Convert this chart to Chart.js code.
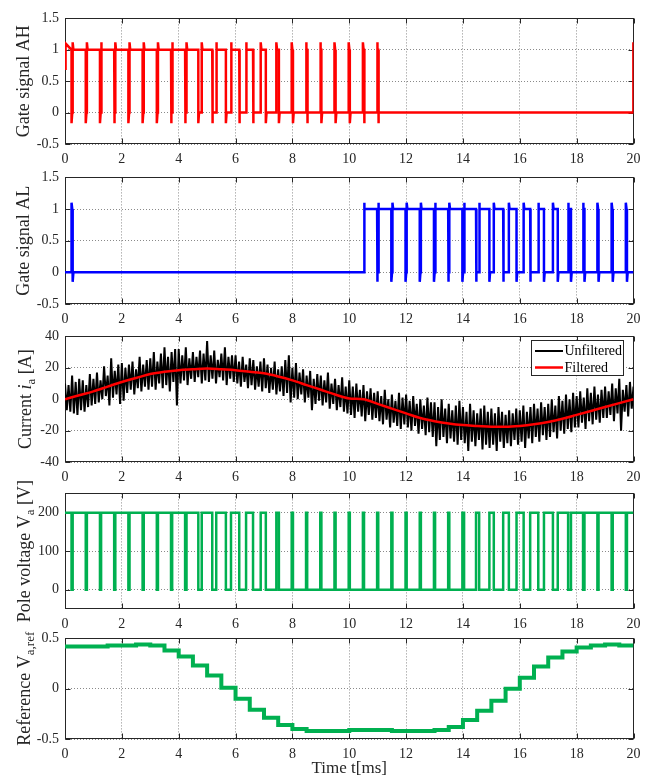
<!DOCTYPE html>
<html>
<head>
<meta charset="utf-8">
<script src="https://cdn.jsdelivr.net/npm/chart.js@4.4.1/dist/chart.umd.min.js"></script>
<style>
  html, body { margin:0; padding:0; background:#ffffff; }
  body { position:relative; width:650px; height:779px; overflow:hidden; }
  canvas { position:absolute; left:0; }
</style>
</head>
<body>
<canvas id="cAH" width="650" height="164" style="top:4px"></canvas>
<canvas id="cAL" width="650" height="165" style="top:163px"></canvas>
<canvas id="cIa" width="650" height="164" style="top:322px"></canvas>
<canvas id="cVa" width="650" height="154" style="top:479px"></canvas>
<canvas id="cRef" width="650" height="155" style="top:624px"></canvas>
<script>
// ---------------- data ----------------
const timeTicks = [0, 2, 4, 6, 8, 10, 12, 14, 16, 18, 20];
const gateTicks = [-0.5, 0, 0.5, 1, 1.5];
const currentTicks = [-40, -20, 0, 20, 40];
const voltageTicks = [0, 100, 200];
const refTicks = [-0.5, 0, 0.5];

// width (ms) of each "low" interval of the pole voltage, centred at 0.25 + 0.5k ms
const pwmLowWidth = [
  0.04, 0.04, 0.04, 0.04, 0.04, 0.04, 0.04, 0.04,
  0.05, 0.12, 0.14, 0.18, 0.24, 0.27, 0.37, 0.45,
  0.46, 0.46, 0.46, 0.46, 0.46, 0.46, 0.46, 0.46, 0.46, 0.46, 0.46, 0.46,
  0.42, 0.36, 0.33, 0.27, 0.23, 0.20, 0.17, 0.10,
  0.05, 0.04, 0.04, 0.04
];
const poleVoltageLevels = [0, 200];
const ahLastPulseEnd = 11.1;      // AH stops switching after this time
const ahFinalRise = 19.985;       // AH rises again at the very end
const ahStartPts = [[0, 0.7], [0.02, 1.1]];
const ahOvershoot = [1.12, -0.17];
const alOvershoot = [1.1, -0.15];
const alFirstLowIndex = 0;        // AL pulse at first low interval
const alSwitchFromIndex = 21;     // AL follows the low intervals from here on

// current: filtered curve (every 0.5 ms)
const iaFiltTime = [0,0.5,1,1.5,2,2.5,3,3.5,4,4.5,5,5.5,6,6.5,7,7.5,8,8.5,9,9.5,10,10.5,11,11.5,12,12.5,13,13.5,14,14.5,15,15.5,16,16.5,17,17.5,18,18.5,19,19.5,20];
const iaFilt = [0,2.5,5,8,11,13.5,16,17.5,18.5,19,19.5,19,18.5,17.5,16.5,14.5,12,9,6,3,0.5,0,-3,-6,-9,-12,-14,-15.5,-16.5,-17,-17.5,-17.5,-17,-16,-14.5,-12.5,-10,-7.5,-5,-2.5,0];

// current: unfiltered ripple, peaks every 0.125 ms and troughs in between
const iaPeak = [
  10, 9, 15, 11, 13, 12, 9, 16,
  13, 17, 12, 21, 15, 26, 18, 22,
  23, 20, 22, 24, 19, 27, 22, 25,
  26, 30, 24, 29, 33, 27, 30, 32,
  32, 28, 33, 26, 30, 27, 31, 29,
  37, 28, 31, 25, 29, 33, 27, 28,
  28, 24, 27, 22, 26, 25, 21, 24,
  26, 22, 20, 24, 19, 21, 25, 28,
  20, 23, 17, 19, 15, 18, 13, 16,
  15, 12, 17, 10, 13, 9, 14, 8,
  12, 8, 10, 6, 9, 5, 7, 4,
  5, 2, 6, 0, 3, -1, 4, 1,
  3, -1, 2, -3, 0, -4, 1, -2,
  -2, -5, 0, -6, -3, -7, -4, -1,
  -5, -8, -3, -7, -9, -6, -4, -8,
  -6, -9, -5, -8, -10, -7, -9, -6,
  -7, -4, -8, -5, -3, -6, -2, -5,
  -3, 0, -4, 2, -1, 3, 0, 4,
  2, 5, 1, 7, 4, 8, 3, 6,
  8, 5, 10, 7, 13, 6, 9, 11
];
const iaTrough = [
  -7, -8, -9, -10, -7, -8, -5, -4,
  -3, -2, 0, 2, -4, 1, 3, -3,
  -1, 4, 6, 3, 7, 5, 8, 6,
  8, 6, 10, 7, 9, 5, 11, -4,
  10, 12, 9, 13, 11, 14, 10, 12,
  11, 13, 10, 14, 12, 9, 13, 11,
  10, 8, 11, 7, 9, 6, 8, 5,
  7, 4, 6, 3, 5, 2, 4, -2,
  1, 0, 3, -2, 1, -7, -3, -1,
  -4, -2, -6, -3, -7, -5, -8, -9,
  -10, -12, -8, -11, -14, -10, -13, -12,
  -14, -16, -13, -18, -15, -17, -19, -16,
  -18, -20, -17, -22, -19, -23, -21, -24,
  -30, -26, -24, -28, -25, -27, -29, -26,
  -28, -33, -27, -30, -26, -32, -29, -31,
  -29, -33, -27, -31, -28, -30, -26, -29,
  -27, -31, -25, -28, -24, -27, -23, -26,
  -24, -21, -25, -20, -22, -19, -21, -18,
  -18, -15, -19, -14, -16, -13, -15, -12,
  -12, -10, -14, -9, -20, -8, -11, -6
];
const iaEndValue = 8;

// reference voltage: one level per 0.5 ms step
const refLevels = [
  0.42, 0.42, 0.42, 0.43, 0.43, 0.44, 0.43, 0.38,
  0.32, 0.23, 0.13, 0.01, -0.10, -0.21, -0.29, -0.36,
  -0.40, -0.42, -0.42, -0.42, -0.41, -0.41, -0.41, -0.42,
  -0.42, -0.42, -0.41, -0.38, -0.31, -0.22, -0.12, 0.00,
  0.11, 0.22, 0.31, 0.37, 0.41, 0.43, 0.44, 0.43
];

// ---------------- building series ----------------
const T_END = 20;
const lows = pwmLowWidth.map((w, k) => [0.25 + 0.5 * k - w / 2, 0.25 + 0.5 * k + w / 2]);
const vaHighs = [];
vaHighs.push([0, lows[0][0]]);
for (let k = 0; k < lows.length - 1; k++) vaHighs.push([lows[k][1], lows[k + 1][0]]);
vaHighs.push([lows[lows.length - 1][1], T_END]);

function gatePoints(highs, hiVal, loVal, os, startPts) {
  const pts = [];
  let level;
  if (startPts) { startPts.forEach(p => pts.push({x: p[0], y: p[1]})); level = 1; }
  else { level = (highs.length && highs[0][0] <= 0) ? 1 : 0; pts.push({x: 0, y: level ? hiVal : loVal}); }
  const settle = 0.025;
  function edge(t, to) {
    const from = level;
    pts.push({x: t, y: from ? hiVal : loVal});
    if (os) {
      pts.push({x: t, y: to ? os[0] : os[1]});
      pts.push({x: Math.min(t + settle, T_END), y: to ? hiVal : loVal});
    } else {
      pts.push({x: t, y: to ? hiVal : loVal});
    }
    level = to;
  }
  highs.forEach(([s, e]) => {
    if (s > 0 && level === 0) edge(s, 1);
    if (e < T_END) edge(e, 0);
  });
  pts.push({x: T_END, y: level ? hiVal : loVal});
  return pts;
}

const ahHighs = vaHighs.filter(h => h[0] < ahLastPulseEnd);
ahHighs.push([ahFinalRise, T_END]);
const ahPts = gatePoints(ahHighs, 1, 0, ahOvershoot, ahStartPts);

const alHighs = [lows[alFirstLowIndex]].concat(lows.slice(alSwitchFromIndex));
const alPts = gatePoints(alHighs, 1, 0, alOvershoot, null);

const vaPts = gatePoints(vaHighs, poleVoltageLevels[1], poleVoltageLevels[0], null, null);

const iaRawPts = [];
iaPeak.forEach((v, k) => {
  iaRawPts.push({x: k * 0.125, y: v});
  iaRawPts.push({x: k * 0.125 + 0.0625, y: iaTrough[k]});
});
iaRawPts.push({x: T_END, y: iaEndValue});
const iaFiltPts = iaFiltTime.map((t, i) => ({x: t, y: iaFilt[i]}));

const refPts = [];
refLevels.forEach((v, k) => { refPts.push({x: 0.5 * k, y: v}); refPts.push({x: 0.5 * k + 0.5, y: v}); });

// ---------------- styling / charts ----------------
const FAM = '"Liberation Serif", "Times New Roman", Times, serif';
Chart.defaults.font.family = FAM;
Chart.defaults.font.size = 14;
Chart.defaults.color = '#262626';

const RED = '#ff0000', BLUE = '#0000ff', GREEN = 'rgb(0,176,80)', BLACK = '#000000';
const fmt = v => String(v);

function xScale(h, title) {
  return {
    type: 'linear', min: 0, max: 20,
    afterBuildTicks: s => { s.ticks = timeTicks.map(v => ({value: v})); },
    ticks: { padding: 7, maxRotation: 0, autoSkip: false, color: '#262626', callback: fmt },
    grid: { color: '#8a8a8a', lineWidth: 1, drawTicks: false },
    border: { display: false, dash: [1, 2] },
    title: title ? { display: true, text: title, color: '#262626', font: { size: 17 }, padding: { top: 0, bottom: 0 } } : { display: false },
    afterFit: s => { s.height = h; }
  };
}
function yScale(min, max, ticksArr) {
  return {
    type: 'linear', min: min, max: max,
    afterBuildTicks: s => { s.ticks = ticksArr.map(v => ({value: v})); },
    ticks: { padding: 6, color: '#262626', callback: fmt },
    grid: { color: '#8a8a8a', lineWidth: 1, drawTicks: false },
    border: { display: false, dash: [1, 2] },
    afterFit: s => { s.width = 65; }
  };
}

const boxPlugin = {
  id: 'mbox',
  beforeDatasetsDraw(chart) {
    const {ctx, chartArea: a, scales} = chart;
    const L = Math.round(a.left) + 0.5, R = Math.round(a.right) - 0.5;
    const T = Math.round(a.top) + 0.5, B = Math.round(a.bottom) - 0.5;
    ctx.save();
    ctx.strokeStyle = '#262626';
    ctx.lineWidth = 1;
    ctx.setLineDash([]);
    ctx.strokeRect(L, T, R - L, B - T);
    ctx.beginPath();
    scales.x.ticks.forEach(t => {
      const p = Math.round(scales.x.getPixelForValue(t.value)) + 0.5;
      ctx.moveTo(p, B); ctx.lineTo(p, B - 5);
      ctx.moveTo(p, T); ctx.lineTo(p, T + 5);
    });
    scales.y.ticks.forEach(t => {
      const p = Math.round(scales.y.getPixelForValue(t.value)) + 0.5;
      ctx.moveTo(L, p); ctx.lineTo(L + 5, p);
      ctx.moveTo(R, p); ctx.lineTo(R - 5, p);
    });
    ctx.stroke();
    ctx.restore();
  }
};

function yTitlePlugin(segs, xBase) {
  return {
    id: 'ytitle',
    afterDraw(chart) {
      const {ctx, chartArea} = chart;
      const fontFor = s => (s.it ? 'italic ' : '') + (s.sub ? 13 : 18) + 'px ' + FAM;
      ctx.save();
      let total = 0;
      segs.forEach(s => { ctx.font = fontFor(s); s.w = ctx.measureText(s.t).width; total += s.w; });
      const yc = (chartArea.top + chartArea.bottom) / 2;
      ctx.translate(xBase, yc);
      ctx.rotate(-Math.PI / 2);
      ctx.fillStyle = '#262626';
      ctx.textBaseline = 'alphabetic';
      ctx.textAlign = 'left';
      let x = -total / 2;
      segs.forEach(s => { ctx.font = fontFor(s); ctx.fillText(s.t, x, s.sub ? 4 : 0); x += s.w; });
      ctx.restore();
    }
  };
}

const legendPlugin = {
  id: 'ialegend',
  afterDatasetsDraw(chart) {
    const {ctx} = chart;
    const off = chart.canvas.offsetTop;
    const bx = 531.5, by = 340.5 - off, bw = 92, bh = 35;
    ctx.save();
    ctx.fillStyle = '#ffffff';
    ctx.fillRect(bx, by, bw, bh);
    ctx.strokeStyle = '#262626';
    ctx.lineWidth = 1;
    ctx.strokeRect(bx, by, bw, bh);
    const items = [['Unfiltered', BLACK, 2], ['Filtered', RED, 2.5]];
    items.forEach((it, i) => {
      const y = by + 10.5 + i * 16.5;
      ctx.strokeStyle = it[1];
      ctx.lineWidth = it[2];
      ctx.beginPath(); ctx.moveTo(535, y); ctx.lineTo(563, y); ctx.stroke();
      ctx.fillStyle = '#000000';
      ctx.font = '14px ' + FAM;
      ctx.textBaseline = 'middle';
      ctx.fillText(it[0], 564.5, y + 0.5);
    });
    ctx.restore();
  }
};

function makeChart(id, datasets, yS, xH, xTitle, titleSegs, titleX, extraPlugins) {
  return new Chart(document.getElementById(id), {
    type: 'line',
    data: { datasets: datasets },
    options: {
      responsive: false,
      animation: false,
      devicePixelRatio: 1,
      events: [],
      layout: { padding: { left: 0, right: 16.5, top: 10, bottom: 0 } },
      elements: { point: { radius: 0 }, line: { tension: 0 } },
      plugins: { legend: { display: false }, tooltip: { enabled: false } },
      scales: { x: xScale(xH, xTitle), y: yS }
    },
    plugins: [boxPlugin, yTitlePlugin(titleSegs, titleX)].concat(extraPlugins || [])
  });
}

makeChart('cAH',
  [{ data: ahPts, borderColor: RED, borderWidth: 2.5, fill: false }],
  yScale(-0.5, 1.5, gateTicks), 24, null,
  [{t: 'Gate signal AH'}], 29);

makeChart('cAL',
  [{ data: alPts, borderColor: BLUE, borderWidth: 2.5, fill: false }],
  yScale(-0.5, 1.5, gateTicks), 24, null,
  [{t: 'Gate signal AL'}], 29);

makeChart('cIa',
  [
    { data: iaFiltPts, borderColor: RED, borderWidth: 2.5, fill: false, tension: 0.4, cubicInterpolationMode: 'monotone' },
    { data: iaRawPts, borderColor: BLACK, borderWidth: 2, fill: false }
  ],
  yScale(-40, 40, currentTicks), 24, null,
  [{t: 'Current '}, {t: 'i', it: true}, {t: 'a', sub: true}, {t: ' [A]'}], 31, [legendPlugin]);

makeChart('cVa',
  [{ data: vaPts, borderColor: GREEN, borderWidth: 2.5, fill: false }],
  yScale(-50, 250, voltageTicks), 24, null,
  [{t: 'Pole voltage V'}, {t: 'a', sub: true}, {t: ' [V]'}], 30);

makeChart('cRef',
  [{ data: refPts, borderColor: GREEN, borderWidth: 4, fill: false }],
  yScale(-0.5, 0.5, refTicks), 40, 'Time t[ms]',
  [{t: 'Reference V'}, {t: 'a,ref', sub: true}], 30);
</script>
</body>
</html>
